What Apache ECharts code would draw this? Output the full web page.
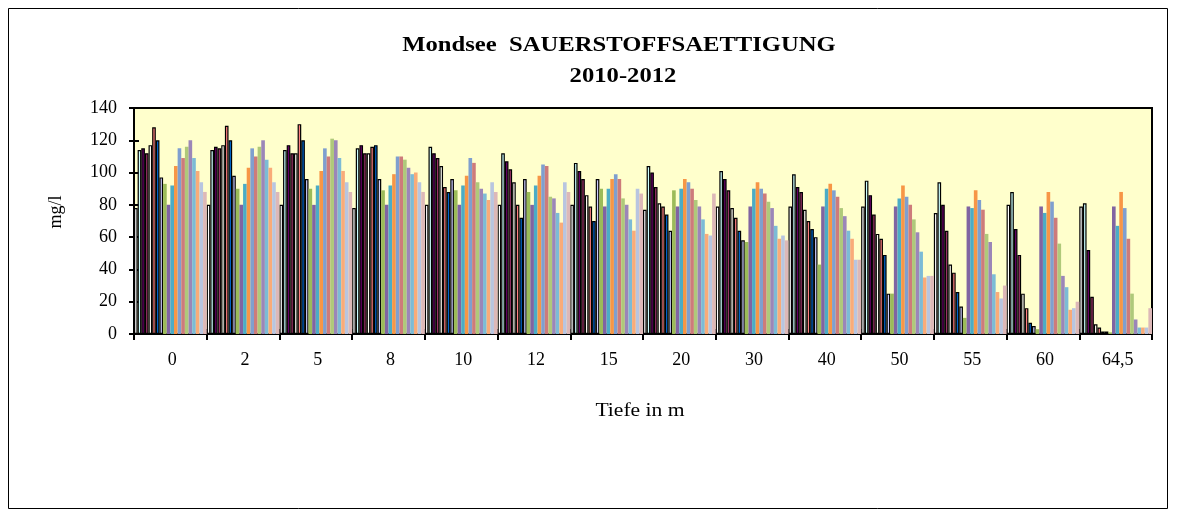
<!DOCTYPE html>
<html>
<head>
<meta charset="utf-8">
<script src="https://cdn.jsdelivr.net/npm/echarts@6/dist/echarts.min.js"></script>
<style>
html,body{margin:0;padding:0;background:#fff;}
#chart{width:1180px;height:517px;}
</style>
</head>
<body>
<div id="chart"></div>
<script>
// Depth categories (m)
const categories = ['0','2','5','8','10','12','15','20','30','40','50','55','60','64,5'];
const yTicks = [0,20,40,60,80,100,120,140];

// Oxygen saturation values per sampling series (one value per depth)
const s01 = [78, 80, 80, 78, 80, 80, 80, 77, 79, 79, 79, 75, 80, 79];
const s02 = [114, 114, 114, 115, 116, 112, 106, 104, 101, 99, 95, 94, 88, 81];
const s03 = [115, 116, 117, 117, 112, 107, 101, 100, 96, 91, 86, 80, 65, 52];
const s04 = [112, 115, 112, 112, 109, 102, 96, 91, 89, 88, 74, 64, 49, 23];
const s05 = [117, 117, 112, 112, 104, 94, 86, 81, 78, 77, 62, 43, 25, 6];
const s06 = [128, 129, 130, 116, 91, 80, 79, 79, 72, 70, 59, 38, 16, 4];
const s07 = [120, 120, 120, 117, 88, 72, 70, 74, 64, 65, 49, 26, 7, 1.5];
const s08 = [97, 98, 96, 96, 96, 96, 96, 64, 58, 60, 25, 17, 5, 1.5];
const s09 = [93, 90, 90, 89, 89, 88, 90, 89, 57, 43, 25, 10, 3, 1];
const s10 = [80, 80, 80, 80, 80, 80, 79, 79, 79, 79, 79, 79, 79, 79];
const s11 = [92, 93, 92, 92, 92, 92, 90, 90, 90, 90, 84, 78, 75, 67];
const s12 = [104, 103, 101, 99, 98, 98, 96, 96, 94, 93, 92, 89, 88, 88];
const s13 = [115, 115, 115, 110, 109, 105, 99, 94, 90, 89, 85, 83, 82, 78];
const s14 = [109, 110, 110, 110, 106, 104, 96, 90, 87, 85, 80, 77, 72, 59];
const s15 = [116, 116, 121, 108, 94, 85, 84, 83, 82, 78, 71, 62, 56, 25];
const s16 = [120, 120, 120, 103, 90, 84, 80, 79, 78, 73, 63, 57, 36, 9];
const s17 = [109, 108, 109, 99, 87, 75, 71, 71, 67, 64, 51, 37, 29, 4];
const s18 = [101, 103, 101, 100, 83, 69, 64, 62, 59, 59, 35, 26, 15, 4];
const s19 = [94, 94, 94, 94, 94, 94, 90, 61, 61, 46, 36, 22, 16, 4];
const s20 = [88, 88, 88, 88, 88, 88, 87, 87, 58, 46, 36, 30, 20, 16];

const seriesValues = [s01,s02,s03,s04,s05,s06,s07,s08,s09,s10,s11,s12,s13,s14,s15,s16,s17,s18,s19,s20];

// Styles (kept apart from the data)
const seriesColors = ['#FFFFFF','#CCFFFF','#660066','#993366','#FFFFF4','#FF8080','#0066CC','#CCCCFF',
  '#9BBB59','#8064A2','#4BACC6','#F79646','#7F9FCF','#CD7B7B','#AFC97A','#9B86B8','#7CBBD6','#F9AB79','#B8C5E0','#DDB8B8'];
const borderedCount = 8;

const chart = echarts.init(document.getElementById('chart'), null, {renderer:'canvas'});
const serif = '"Liberation Serif","DejaVu Serif",serif';

const series = seriesValues.map((vals, i) => ({
  type: 'bar',
  name: 'S' + (i + 1),
  data: vals,
  xAxisIndex: 0,
  yAxisIndex: 0,
  barGap: '0%',
  barCategoryGap: '0%',
  itemStyle: {
    color: seriesColors[i],
    borderColor: i < borderedCount ? '#000000' : seriesColors[i],
    borderWidth: i < borderedCount ? 1.2 : 0
  }
}));

chart.setOption({
  animation: false,
  backgroundColor: '#ffffff',
  grid: {
    left: 134, right: 28, top: 108, bottom: 183,
    show: true, backgroundColor: '#FFFFCC', borderColor: '#000', borderWidth: 2
  },
  xAxis: [{
    type: 'category',
    data: categories,
    position: 'bottom',
    axisLine: {show: true, lineStyle: {color: '#000', width: 2}},
    axisTick: {show: true, length: 6, lineStyle: {color: '#000', width: 2}},
    axisLabel: {color: '#000', fontFamily: serif, fontSize: 18, margin: 17, padding: [0, 0, 0, 4]},
    splitLine: {show: false}
  }, {
    type: 'category',
    data: categories,
    position: 'bottom',
    axisLine: {show: false},
    axisTick: {show: true, inside: true, length: 5, lineStyle: {color: '#000', width: 2}},
    axisLabel: {show: false},
    splitLine: {show: false}
  }],
  yAxis: [{
    type: 'value',
    min: yTicks[0], max: yTicks[yTicks.length - 1], interval: 20,
    axisLine: {show: true, lineStyle: {color: '#000', width: 2}},
    axisTick: {show: true, length: 5, lineStyle: {color: '#000', width: 2}},
    axisLabel: {color: '#000', fontFamily: serif, fontSize: 18, margin: 17},
    splitLine: {show: false}
  }, {
    type: 'value',
    position: 'left',
    min: yTicks[0], max: yTicks[yTicks.length - 1], interval: 20,
    axisLine: {show: false},
    axisTick: {show: true, inside: true, length: 5, lineStyle: {color: '#000', width: 2}},
    axisLabel: {show: false},
    splitLine: {show: false}
  }],
  series: series,
  graphic: [
    {type: 'rect', z: -10, silent: true,
     shape: {x: 8.5, y: 8.5, width: 1159, height: 500}, style: {fill: 'none', stroke: '#000', lineWidth: 1}},
    {type: 'text', x: 619, y: 45, scaleX: 1.12, silent: true,
     style: {text: 'Mondsee  SAUERSTOFFSAETTIGUNG', font: 'bold 22px ' + serif, fill: '#000', textAlign: 'center', textVerticalAlign: 'middle'}},
    {type: 'text', x: 623, y: 76, scaleX: 1.12, silent: true,
     style: {text: '2010-2012', font: 'bold 22px ' + serif, fill: '#000', textAlign: 'center', textVerticalAlign: 'middle'}},
    {type: 'text', x: 640, y: 411, scaleX: 1.2, silent: true,
     style: {text: 'Tiefe in m', font: '18px ' + serif, fill: '#000', textAlign: 'center', textVerticalAlign: 'middle'}},
    {type: 'text', x: 56, y: 212, rotation: Math.PI / 2, silent: true,
     style: {text: 'mg/l', font: '18px ' + serif, fill: '#000', textAlign: 'center', textVerticalAlign: 'middle'}}
  ]
});
</script>
</body>
</html>
